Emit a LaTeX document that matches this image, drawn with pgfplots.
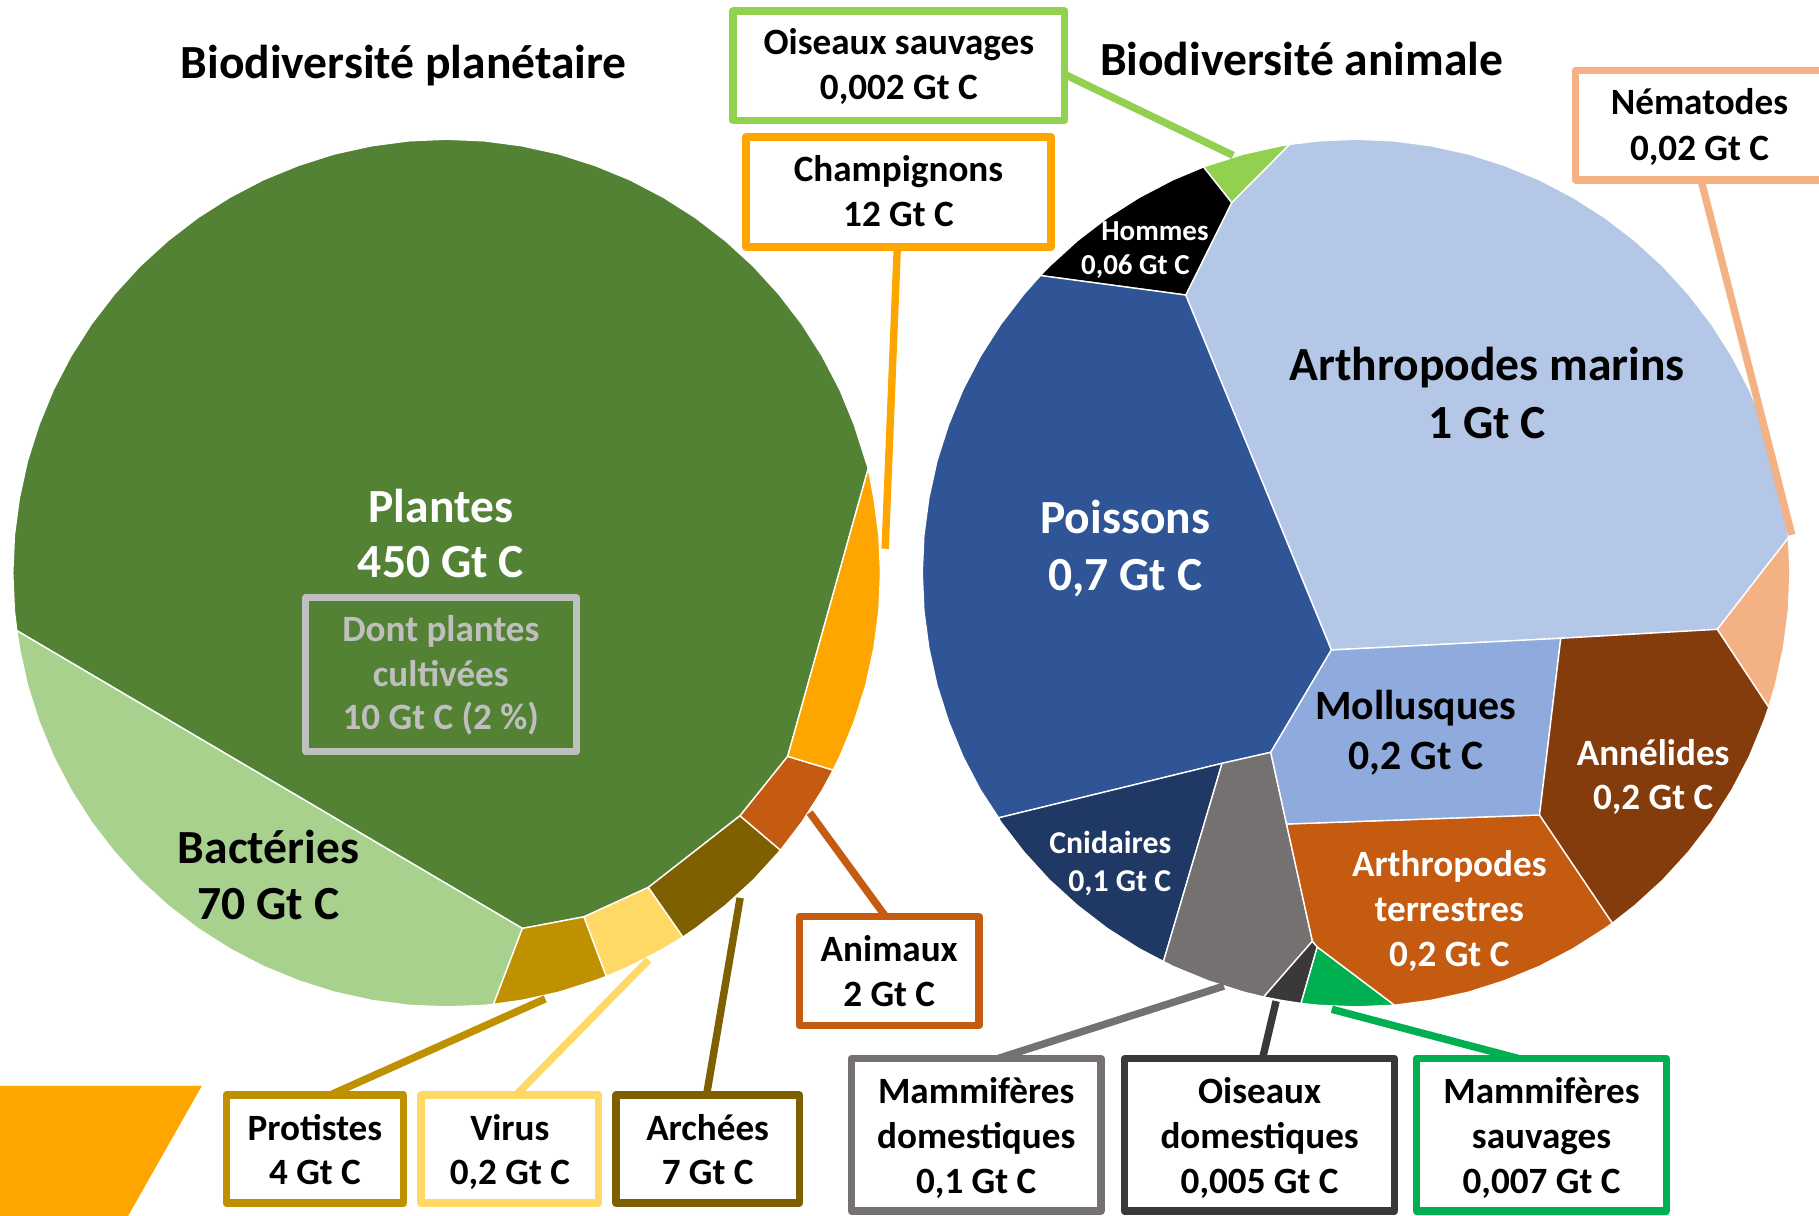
\documentclass[border=0pt]{standalone}
\usepackage{fontspec}
\setmainfont{Carlito}
\usepackage{pgfplots}
\pgfplotsset{compat=1.18}

\definecolor{plantes}{HTML}{548235}
\definecolor{bacteries}{HTML}{A9D18E}
\definecolor{protistes}{HTML}{BF9000}
\definecolor{virus}{HTML}{FFD966}
\definecolor{archees}{HTML}{7F6000}
\definecolor{animaux}{HTML}{C55A11}
\definecolor{champ}{HTML}{FFA500}
\definecolor{oisauv}{HTML}{92D050}
\definecolor{marins}{HTML}{B4C7E7}
\definecolor{poissons}{HTML}{2F5597}
\definecolor{cnid}{HTML}{203864}
\definecolor{mamdom}{HTML}{767171}
\definecolor{oisdom}{HTML}{3A3838}
\definecolor{mamsauv}{HTML}{00B050}
\definecolor{arthter}{HTML}{C55A11}
\definecolor{moll}{HTML}{8FAADC}
\definecolor{annel}{HTML}{843C0C}
\definecolor{nemat}{HTML}{F4B183}
\definecolor{grisbox}{HTML}{BFBFBF}

% one line of bold text: size (pt), colour, x, baseline y, text
\newcommand{\tl}[5]{\node[anchor=base, inner sep=0pt, text=#2,
  font=\fontsize{#1}{#1}\selectfont\bfseries] at (axis cs:#3,#4) {#5};}
\newcommand{\boite}[5]{\draw[#1, line width=3.2pt, line join=round, fill=white]
  (axis cs:#2,#3) rectangle (axis cs:#4,#5);}
\tikzset{lead/.style={line width=3.2pt}}

\begin{document}
\begin{tikzpicture}
\begin{axis}[
  width=784pt, height=524pt, scale only axis,
  xmin=0, xmax=1568, ymin=0, ymax=1048, y dir=reverse,
  hide axis, clip=false,
  every axis plot/.append style={draw=white, line width=0.6pt, line join=round},
]
% ---- biodiversite planetaire (left disc) ----
\addplot[fill=plantes] coordinates {
 (748.5,403.7) (746.3,397.2) (736.4,366.1) (724.0,335.9) (708.9,307.0) (691.4,279.5)
 (671.5,253.6) (649.5,229.5) (625.4,207.5) (599.5,187.6) (572.0,170.1) (543.1,155.0)
 (512.9,142.6) (481.8,132.7) (449.9,125.7) (417.6,121.4) (385,120) (352.4,121.4)
 (320.1,125.7) (288.2,132.7) (257.1,142.6) (226.9,155.0) (198.0,170.1) (170.5,187.6)
 (144.6,207.5) (120.5,229.5) (98.5,253.6) (78.6,279.5) (61.1,307.0) (46.0,335.9)
 (33.6,366.1) (23.7,397.2) (16.7,429.1) (12.4,461.4) (11,494) (12.4,526.6)
 (14.5,543.6) (450.3,800.3) (503.4,790.3) (558.9,764.9) (637.9,703.2) (679,652)
 (748.5,403.7)};
\addplot[fill=bacteries] coordinates {
 (14.5,543.6) (16.7,558.9) (23.7,590.8) (33.6,621.9) (46.0,652.1) (61.1,681.0)
 (78.6,708.5) (98.5,734.4) (120.5,758.5) (144.6,780.5) (170.5,800.4) (198.0,817.9)
 (226.9,833.0) (257.1,845.4) (288.2,855.3) (320.1,862.3) (352.4,866.6) (385,868)
 (417.6,866.6) (425.4,865.8) (450.3,800.3) (14.5,543.6)};
\addplot[fill=protistes] coordinates {
 (450.3,800.3) (425.4,865.8) (449.9,862.3) (481.8,855.3) (512.9,845.4) (522.7,841.7)
 (503.4,790.3) (450.3,800.3)};
\addplot[fill=virus] coordinates {
 (503.4,790.3) (522.7,841.7) (543.1,833.0) (572.0,817.9) (588.7,807.7) (558.9,764.9)
 (503.4,790.3)};
\addplot[fill=archees] coordinates {
 (558.9,764.9) (588.7,807.7) (599.5,800.4) (625.4,780.5) (649.5,758.5) (671.5,734.4)
 (672.8,732.9) (637.9,703.2) (558.9,764.9)};
\addplot[fill=animaux] coordinates {
 (637.9,703.2) (672.8,732.9) (691.4,708.5) (708.9,681.0) (718.2,663.8) (679,652)
 (637.9,703.2)};
\addplot[fill=champ] coordinates {
 (679,652) (718.2,663.8) (724.0,652.1) (736.4,621.9) (746.3,590.8) (753.3,558.9)
 (757.6,526.6) (759,494) (757.6,461.4) (753.3,429.1) (748.5,403.7) (679,652)};
% orange corner shape
\addplot[fill=champ, draw=none] coordinates {(0,936) (174,936) (110.5,1048) (0,1048) (0,936)};

% ---- biodiversite animale (right disc) ----
\addplot[fill=marins] coordinates {
 (1541.7,463.4) (1537.3,429.1) (1530.3,397.2) (1520.4,366.1) (1508.0,335.9) (1492.9,307.0)
 (1475.4,279.5) (1455.5,253.6) (1433.5,229.5) (1409.4,207.5) (1383.5,187.6) (1356.0,170.1)
 (1327.1,155.0) (1296.9,142.6) (1265.8,132.7) (1233.9,125.7) (1201.6,121.4) (1169,120)
 (1136.4,121.4) (1111.5,124.5) (1061.7,174.7) (1022.1,254.3) (1147.6,560.3) (1345.4,550.2)
 (1480.4,542.5) (1541.7,463.4)};
\addplot[fill=oisauv] coordinates {
 (1111.5,124.5) (1104.1,125.7) (1072.2,132.7) (1041.1,142.6) (1037.4,143.9) (1061.7,174.7)
 (1111.5,124.5)};
\addplot[fill=black] coordinates {
 (1037.4,143.9) (1010.9,155.0) (982.0,170.1) (954.5,187.6) (928.6,207.5) (904.5,229.5)
 (896.8,237.5) (1022.1,254.3) (1061.7,174.7) (1037.4,143.9)};
\addplot[fill=poissons] coordinates {
 (896.8,237.5) (882.5,253.6) (862.6,279.5) (845.1,307.0) (830.0,335.9) (817.6,366.1)
 (807.7,397.2) (800.7,429.1) (796.4,461.4) (795,494) (796.4,526.6) (800.7,558.9)
 (807.7,590.8) (817.6,621.9) (830.0,652.1) (845.1,681.0) (860.8,705) (1053.4,658)
 (1095.4,648.5) (1147.6,560.3) (1022.1,254.3) (896.8,237.5)};
\addplot[fill=cnid] coordinates {
 (860.8,705) (862.6,708.5) (882.5,734.4) (904.5,758.5) (928.6,780.5) (954.5,800.4)
 (982.0,817.9) (1002.9,828.8) (1053.4,658) (860.8,705)};
\addplot[fill=mamdom] coordinates {
 (1053.4,658) (1002.9,828.8) (1010.9,833.0) (1041.1,845.4) (1072.2,855.3) (1089.3,859.4)
 (1131.3,811.3) (1109,710.3) (1095.4,648.5) (1053.4,658)};
\addplot[fill=oisdom] coordinates {
 (1089.3,859.4) (1104.1,862.3) (1121.5,865) (1135.5,816.3) (1131.3,811.3) (1089.3,859.4)};
\addplot[fill=mamsauv] coordinates {
 (1121.5,865) (1136.4,866.6) (1169,868) (1202.2,866.5) (1135.5,816.3) (1121.5,865)};
\addplot[fill=arthter] coordinates {
 (1135.5,816.3) (1202.2,866.5) (1233.9,862.3) (1265.8,855.3) (1296.9,845.4) (1327.1,833.0)
 (1356.0,817.9) (1383.5,800.4) (1389.9,795.8) (1327.1,702.5) (1109,710.3) (1131.3,811.3)
 (1135.5,816.3)};
\addplot[fill=moll] coordinates {
 (1147.6,560.3) (1345.4,550.2) (1327.1,702.5) (1109,710.3) (1095.4,648.5) (1147.6,560.3)};
\addplot[fill=annel] coordinates {
 (1389.9,795.8) (1409.4,780.5) (1433.5,758.5) (1455.5,734.4) (1475.4,708.5) (1492.9,681.0)
 (1508.0,652.1) (1520.4,621.9) (1524.7,609.6) (1480.4,542.5) (1345.4,550.2) (1327.1,702.5)
 (1389.9,795.8)};
\addplot[fill=nemat] coordinates {
 (1524.7,609.6) (1530.3,590.8) (1537.3,558.9) (1541.6,526.6) (1543,494) (1541.7,463.4)
 (1480.4,542.5) (1524.7,609.6)};

% ---- leader lines ----
\draw[oisauv, lead] (axis cs:905,58) -- (axis cs:1063,134);
\draw[champ, lead] (axis cs:774,200) -- (axis cs:763,473);
\draw[nemat, lead] (axis cs:1465,150) -- (axis cs:1544.5,461);
\draw[animaux, lead] (axis cs:767,795) -- (axis cs:698,700.5);
\draw[protistes, lead] (axis cs:271,950) -- (axis cs:470,861);
\draw[virus, lead] (axis cs:439,950) -- (axis cs:559,827.5);
\draw[archees, lead] (axis cs:608,950) -- (axis cs:638,774);
\draw[mamdom, lead] (axis cs:843,918) -- (axis cs:1055,850);
\draw[oisdom, lead] (axis cs:1087,918) -- (axis cs:1100,863);
\draw[mamsauv, lead] (axis cs:1330,918) -- (axis cs:1148,870);

% ---- label boxes ----
\boite{oisauv}{632}{9.5}{917.5}{103.7}
\boite{champ}{643}{118}{906}{213}
\boite{nemat}{1358}{61}{1572}{155}
\boite{animaux}{689}{790}{844}{884}
\boite{protistes}{195}{944}{348}{1037}
\boite{virus}{363}{944}{516}{1037}
\boite{archees}{531}{944}{689}{1037}
\boite{mamdom}{734}{912.5}{949}{1044}
\boite{oisdom}{969.5}{912.5}{1202}{1044}
\boite{mamsauv}{1221}{912.5}{1436.5}{1044}
\draw[grisbox, line width=3pt, line join=round] (axis cs:263.6,515.2) rectangle (axis cs:496.8,648);

% ---- texts ----
\tl{20.5}{black}{348}{68}{Biodiversité planétaire}
\tl{20.5}{black}{1122}{65}{Biodiversité animale}
\tl{20.5}{white}{380}{450}{Plantes}
\tl{20.5}{white}{380}{498}{450 Gt C}
\tl{16}{grisbox}{380}{553}{Dont plantes}
\tl{16}{grisbox}{380}{592}{cultivées}
\tl{16}{grisbox}{380}{629}{10 Gt C (2~\%)}
\tl{20.5}{black}{231.5}{744}{Bactéries}
\tl{20.5}{black}{231.5}{793}{70 Gt C}
\tl{20.5}{black}{1282}{328}{Arthropodes marins}
\tl{20.5}{black}{1282}{378}{1 Gt C}
\tl{20.5}{white}{970}{460}{Poissons}
\tl{20.5}{white}{970}{509}{0,7 Gt C}
\tl{18}{black}{1220.5}{620}{Mollusques}
\tl{18}{black}{1220.5}{663}{0,2 Gt C}
\tl{16}{white}{1425}{659.5}{Annélides}
\tl{16}{white}{1425}{697.5}{0,2 Gt C}
\tl{16}{white}{1249.3}{755.7}{Arthropodes}
\tl{16}{white}{1249.3}{794.5}{terrestres}
\tl{16}{white}{1249.3}{832.7}{0,2 Gt C}
\node[anchor=base east, inner sep=0pt, text=white, font=\fontsize{13.7}{13.7}\selectfont\bfseries]
  at (axis cs:1010,735.6) {Cnidaires};
\node[anchor=base east, inner sep=0pt, text=white, font=\fontsize{13.7}{13.7}\selectfont\bfseries]
  at (axis cs:1010,768.6) {0,1 Gt C};
\tl{12.5}{white}{995.6}{207.5}{Hommes}
\tl{12.5}{white}{978.7}{237}{0,06 Gt C}
\tl{16}{black}{774.8}{47.4}{Oiseaux sauvages}
\tl{16}{black}{774.8}{86.2}{0,002 Gt C}
\tl{16}{black}{774.5}{156.6}{Champignons}
\tl{16}{black}{774.5}{195.4}{12 Gt C}
\tl{16}{black}{1465}{99}{Nématodes}
\tl{16}{black}{1465}{138}{0,02 Gt C}
\tl{16}{black}{766.5}{829}{Animaux}
\tl{16}{black}{766.5}{868}{2 Gt C}
\tl{16}{black}{271.5}{983}{Protistes}
\tl{16}{black}{271.5}{1021}{4 Gt C}
\tl{16}{black}{439.5}{983}{Virus}
\tl{16}{black}{439.5}{1021}{0,2 Gt C}
\tl{16}{black}{610}{983}{Archées}
\tl{16}{black}{610}{1021}{7 Gt C}
\tl{16}{black}{841.5}{951.6}{Mammifères}
\tl{16}{black}{841.5}{989.9}{domestiques}
\tl{16}{black}{841.5}{1028.6}{0,1 Gt C}
\tl{16}{black}{1085.8}{951.6}{Oiseaux}
\tl{16}{black}{1085.8}{989.9}{domestiques}
\tl{16}{black}{1085.8}{1028.6}{0,005 Gt C}
\tl{16}{black}{1328.8}{951.6}{Mammifères}
\tl{16}{black}{1328.8}{989.9}{sauvages}
\tl{16}{black}{1328.8}{1028.6}{0,007 Gt C}
\end{axis}
\pgfresetboundingbox
\path[use as bounding box] (current axis.south west) rectangle (current axis.north east);
\end{tikzpicture}
\end{document}
